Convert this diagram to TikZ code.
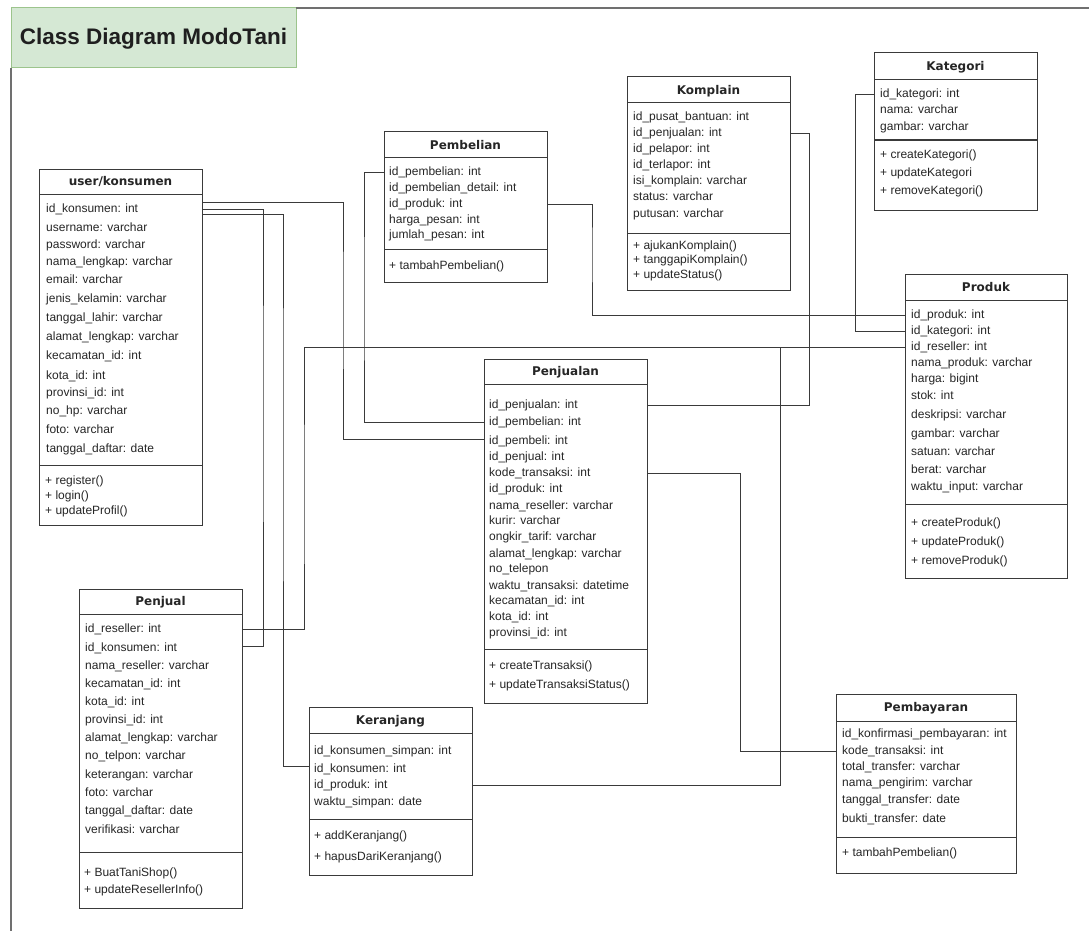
\documentclass[tikz,border=0pt]{standalone}
\usepackage{fontspec}
\setmainfont{Liberation Sans}
\newfontfamily\hdrfont{DejaVu Sans}
\usetikzlibrary{calc}
\definecolor{ink}{HTML}{262626}
\definecolor{edge}{HTML}{3A3A3A}
\definecolor{titlefill}{HTML}{D5E8D4}
\definecolor{titledraw}{HTML}{9CC48C}
\definecolor{framec}{HTML}{707070}
\tikzset{
  classbox/.style={draw=edge, line width=1pt, fill=white, rectangle, inner sep=0pt, outer sep=0pt, anchor=north west},
  hdr/.style={font=\hdrfont\bfseries\fontsize{12}{14}\selectfont, text=ink, anchor=base, inner sep=0pt, yshift=-4.5pt},
  attr/.style={font=\fontsize{12}{14}\selectfont, text=ink, anchor=base west, inner sep=0pt, yshift=-4.3pt},
  rule/.style={draw=edge, line width=1pt},
  conn/.style={draw=edge, line width=1pt},
}
\begin{document}
\begin{tikzpicture}[x=1pt,y=-1pt]
\fill[white] (0,0) rectangle (1089,931);
\useasboundingbox (0,0) rectangle (1089,931);

% title banner and page frame
\node[draw=titledraw, fill=titlefill, line width=1pt, minimum width=285pt, minimum height=60pt,
      anchor=north west, inner sep=0pt, outer sep=0pt] (title) at (11,8) {};
\node[font=\bfseries\fontsize{22.5}{26}\selectfont, text=black!88, anchor=base, inner sep=0pt] (titletext) at (153.5,45) {Class Diagram ModoTani};
\draw[framec, line width=1.2pt] (title.north east) -- (1089,8);
\draw[framec, line width=1.2pt] (title.south west) -- (11,931);

% ---------- user/konsumen ----------
\node[classbox, minimum width=163pt, minimum height=356pt] (uk) at (39,169) {};
\node[hdr] (ukh) at (120.5,181) {user/konsumen};
\draw[rule] (39,194) -- (202,194);
\draw[rule] (39,465) -- (202,465);
\foreach \y/\t [count=\i] in {208/id\_konsumen: int, 227/username: varchar, 244/password: varchar,
  261/nama\_lengkap: varchar, 279/email: varchar, 298/jenis\_kelamin: varchar, 317/tanggal\_lahir: varchar,
  336/alamat\_lengkap: varchar, 355/kecamatan\_id: int, 375/kota\_id: int, 392/provinsi\_id: int,
  410/no\_hp: varchar, 429/foto: varchar, 448/tanggal\_daftar: date}
  \node[attr] (uk\i) at (46,\y) {\t};
\foreach \y/\t [count=\i] in {480/+ register(), 495/+ login(), 510/+ updateProfil()}
  \node[attr] (ukm\i) at (45,\y) {\t};

% ---------- Pembelian ----------
\node[classbox, minimum width=163pt, minimum height=150pt] (pb) at (384,132) {};
\node[hdr] (pbh) at (465.5,145) {Pembelian};
\draw[rule] (384,157) -- (547,157);
\draw[rule] (384,249) -- (547,249);
\foreach \y/\t [count=\i] in {171/id\_pembelian: int, 187/id\_pembelian\_detail: int, 203/id\_produk: int,
  219/harga\_pesan: int, 234/jumlah\_pesan: int}
  \node[attr] (pb\i) at (389,\y) {\t};
\node[attr] (pbm1) at (389,265) {+ tambahPembelian()};

% ---------- Komplain ----------
\node[classbox, minimum width=163pt, minimum height=213pt] (kp) at (627,77) {};
\node[hdr] (kph) at (708.5,90) {Komplain};
\draw[rule] (627,103) -- (790,103);
\draw[rule] (627,233) -- (790,233);
\foreach \y/\t [count=\i] in {116/id\_pusat\_bantuan: int, 132/id\_penjualan: int, 148/id\_pelapor: int,
  164/id\_terlapor: int, 180/isi\_komplain: varchar, 196/status: varchar, 213/putusan: varchar}
  \node[attr] (kp\i) at (633,\y) {\t};
\foreach \y/\t [count=\i] in {245/+ ajukanKomplain(), 259/+ tanggapiKomplain(), 274/+ updateStatus()}
  \node[attr] (kpm\i) at (633,\y) {\t};

% ---------- Kategori ----------
\node[classbox, minimum width=163pt, minimum height=157pt] (kt) at (874,53) {};
\node[hdr] (kth) at (955.5,66) {Kategori};
\draw[rule] (874,80) -- (1037,80);
\draw[rule] (874,140) -- (1037,140);
\foreach \y/\t [count=\i] in {93/id\_kategori: int, 109/nama: varchar, 126/gambar: varchar}
  \node[attr] (kt\i) at (880,\y) {\t};
\foreach \y/\t [count=\i] in {154/+ createKategori(), 172/+ updateKategori, 190/+ removeKategori()}
  \node[attr] (ktm\i) at (880,\y) {\t};

% ---------- Produk ----------
\node[classbox, minimum width=162pt, minimum height=304pt] (pr) at (905,274) {};
\node[hdr] (prh) at (986,287) {Produk};
\draw[rule] (905,300) -- (1067,300);
\draw[rule] (905,504) -- (1067,504);
\foreach \y/\t [count=\i] in {314/id\_produk: int, 330/id\_kategori: int, 346/id\_reseller: int,
  362/nama\_produk: varchar, 378/harga: bigint, 395/stok: int, 414/deskripsi: varchar,
  433/gambar: varchar, 451/satuan: varchar, 469/berat: varchar, 486/waktu\_input: varchar}
  \node[attr] (pr\i) at (911,\y) {\t};
\foreach \y/\t [count=\i] in {522/+ createProduk(), 541/+ updateProduk(), 560/+ removeProduk()}
  \node[attr] (prm\i) at (911,\y) {\t};

% ---------- Penjualan ----------
\node[classbox, minimum width=163pt, minimum height=344pt] (pj) at (484,359) {};
\node[hdr] (pjh) at (565.5,371) {Penjualan};
\draw[rule] (484,384) -- (647,384);
\draw[rule] (484,649) -- (647,649);
\foreach \y/\t [count=\i] in {404/id\_penjualan: int, 421/id\_pembelian: int, 440/id\_pembeli: int,
  456/id\_penjual: int, 472/kode\_transaksi: int, 488/id\_produk: int, 505/nama\_reseller: varchar,
  520/kurir: varchar, 536/ongkir\_tarif: varchar, 553/alamat\_lengkap: varchar, 568/no\_telepon,
  585/waktu\_transaksi: datetime, 600/kecamatan\_id: int, 616/kota\_id: int, 632/provinsi\_id: int}
  \node[attr] (pj\i) at (489,\y) {\t};
\foreach \y/\t [count=\i] in {665/+ createTransaksi(), 684/+ updateTransaksiStatus()}
  \node[attr] (pjm\i) at (489,\y) {\t};

% ---------- Penjual ----------
\node[classbox, minimum width=163pt, minimum height=319pt] (ps) at (79,589) {};
\node[hdr] (psh) at (160.5,601) {Penjual};
\draw[rule] (79,614) -- (242,614);
\draw[rule] (79,852) -- (242,852);
\foreach \y/\t [count=\i] in {628/id\_reseller: int, 647/id\_konsumen: int, 665/nama\_reseller: varchar,
  683/kecamatan\_id: int, 701/kota\_id: int, 719/provinsi\_id: int, 737/alamat\_lengkap: varchar,
  755/no\_telpon: varchar, 774/keterangan: varchar, 792/foto: varchar, 810/tanggal\_daftar: date,
  829/verifikasi: varchar}
  \node[attr] (ps\i) at (85,\y) {\t};
\foreach \y/\t [count=\i] in {872/+ BuatTaniShop(), 889/+ updateResellerInfo()}
  \node[attr] (psm\i) at (84,\y) {\t};

% ---------- Keranjang ----------
\node[classbox, minimum width=163pt, minimum height=168pt] (kr) at (309,707) {};
\node[hdr] (krh) at (390.5,720) {Keranjang};
\draw[rule] (309,733) -- (472,733);
\draw[rule] (309,819) -- (472,819);
\foreach \y/\t [count=\i] in {750/id\_konsumen\_simpan: int, 768/id\_konsumen: int, 784/id\_produk: int,
  801/waktu\_simpan: date}
  \node[attr] (kr\i) at (314,\y) {\t};
\foreach \y/\t [count=\i] in {835/+ addKeranjang(), 856/+ hapusDariKeranjang()}
  \node[attr] (krm\i) at (314,\y) {\t};

% ---------- Pembayaran ----------
\node[classbox, minimum width=180pt, minimum height=179pt] (pm) at (836,694) {};
\node[hdr] (pmh) at (926,707) {Pembayaran};
\draw[rule] (836,721) -- (1016,721);
\draw[rule] (836,837) -- (1016,837);
\foreach \y/\t [count=\i] in {733/id\_konfirmasi\_pembayaran: int, 750/kode\_transaksi: int,
  766/total\_transfer: varchar, 782/nama\_pengirim: varchar, 799/tanggal\_transfer: date,
  818/bukti\_transfer: date}
  \node[attr] (pm\i) at (842,\y) {\t};
\node[attr] (pmm1) at (842,852) {+ tambahPembelian()};

% ---------- relations ----------
\draw[conn] ($(uk.east|-uk1)+(0,-7)$) -| (343,300) |- ($(pj.west|-pj3)+(0,-2)$);
\draw[conn] (uk.east|-uk1) -| (263,400) |- ($(ps.east|-ps2)+(0,-2)$);
\draw[conn] ($(uk.east|-uk1)+(0,5)$) -| (283,400) |- ($(kr.west|-kr2)+(0,-3)$);
\draw[conn] (ps.east|-ps1) -| (304,500) |- (pr.west|-pr3);
\draw[conn] (pb.west|-pb1) -| (364,300) |- (pj.west|-pj2);
\draw[conn] (pb.east|-pb3) -| (592,250) |- (pr.west|-pr1);
\draw[conn] (kp.east|-kp2) -| (809,250) |- (pj.east|-pj1);
\draw[conn] (kt.west|-kt1) -| (855,200) |- (pr.west|-pr2);
\draw[conn] (pj.east|-pj5) -| (740,600) |- (pm.west|-pm2);
\draw[conn] (kr.east|-kr3) -| (780,560) |- (pr.west|-pr3);
\end{tikzpicture}
\end{document}
